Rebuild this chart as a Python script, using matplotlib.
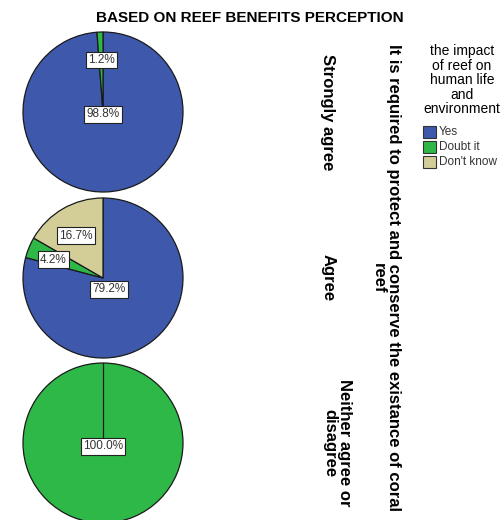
import matplotlib.pyplot as plt

plt.rcParams['font.family'] = ['Liberation Sans', 'DejaVu Sans']

# data
categories = ["Yes", "Doubt it", "Don't know"]
colors = ['#3E58AC', '#2EB848', '#D3CE97']
row_labels = ["Strongly agree", "Agree", "Neither agree or\ndisagree"]
strongly_agree = [98.8, 1.2, 0.0]
agree = [79.2, 4.2, 16.7]
neither = [0.0, 100.0, 0.0]
rows = [strongly_agree, agree, neither]

# where each percent box sits, in units of the pie radius
label_pos = [
    {0: (0.0, -0.03), 1: (-0.02, 0.65)},
    {0: (0.07, -0.14), 1: (-0.62, 0.23), 2: (-0.34, 0.53)},
    {1: (0.0, -0.04)},
]

W, H = 501, 520
fig = plt.figure(figsize=(W / 100, H / 100), dpi=100)

fig.text(250 / W, 1 - 18 / H, "BASED ON REEF BENEFITS PERCEPTION",
         ha='center', va='center', fontsize=11, fontweight='bold')

r = 80
centers_y = [112, 278, 443]
for vals, cy, lp in zip(rows, centers_y, label_pos):
    ax = fig.add_axes([(103 - r) / W, 1 - (cy + r) / H, 2 * r / W, 2 * r / H])
    idx = [i for i, v in enumerate(vals) if v > 0]
    wedges, _ = ax.pie([vals[i] for i in idx], colors=[colors[i] for i in idx],
                       startangle=90, counterclock=False,
                       wedgeprops=dict(edgecolor='#1a1a1a', linewidth=0.9))
    for w in wedges:
        w.set_clip_on(False)
    if len(idx) == 1:
        ax.plot([0, 0], [0, 1], color='#1a1a1a', lw=0.9)
    for i in idx:
        x, y = lp[i]
        ax.text(x, y, f"{vals[i]:.1f}%", ha='center', va='center', fontsize=8.5,
                color='#333333',
                bbox=dict(boxstyle='square,pad=0.2', fc='white', ec='#222222', lw=0.8))
    ax.set_xlim(-1, 1)
    ax.set_ylim(-1, 1)
    ax.set_aspect('equal')
    ax.axis('off')

# row labels
row_x = [328, 328, 337]
for lab, cy, rx in zip(row_labels, centers_y, row_x):
    fig.text(rx / W, 1 - cy / H, lab, rotation=270, ha='center', va='center',
             fontsize=12, fontweight='bold', multialignment='center',
             linespacing=1.0)

fig.text(386 / W, 1 - 278 / H,
         "It is required to protect and conserve the existance of coral\nreef",
         rotation=270, ha='center', va='center', fontsize=12, fontweight='bold',
         multialignment='center', linespacing=1.0)

# legend
fig.text(462 / W, 1 - 44 / H, "the impact\nof reef on\nhuman life\nand\nenvironment",
         ha='center', va='top', fontsize=10, multialignment='center', linespacing=1.05)
for k, (cat, c) in enumerate(zip(categories, colors)):
    yy = 132 + 15 * k
    fig.patches.append(plt.Rectangle((423 / W, 1 - (yy + 6) / H), 13 / W, 12 / H,
                                     transform=fig.transFigure, fc=c, ec='#333333',
                                     lw=0.8))
    fig.text(439 / W, 1 - yy / H, cat, ha='left', va='center', fontsize=8.5,
             color='#333333')

fig.savefig('out.png', dpi=100)
plt.close()
